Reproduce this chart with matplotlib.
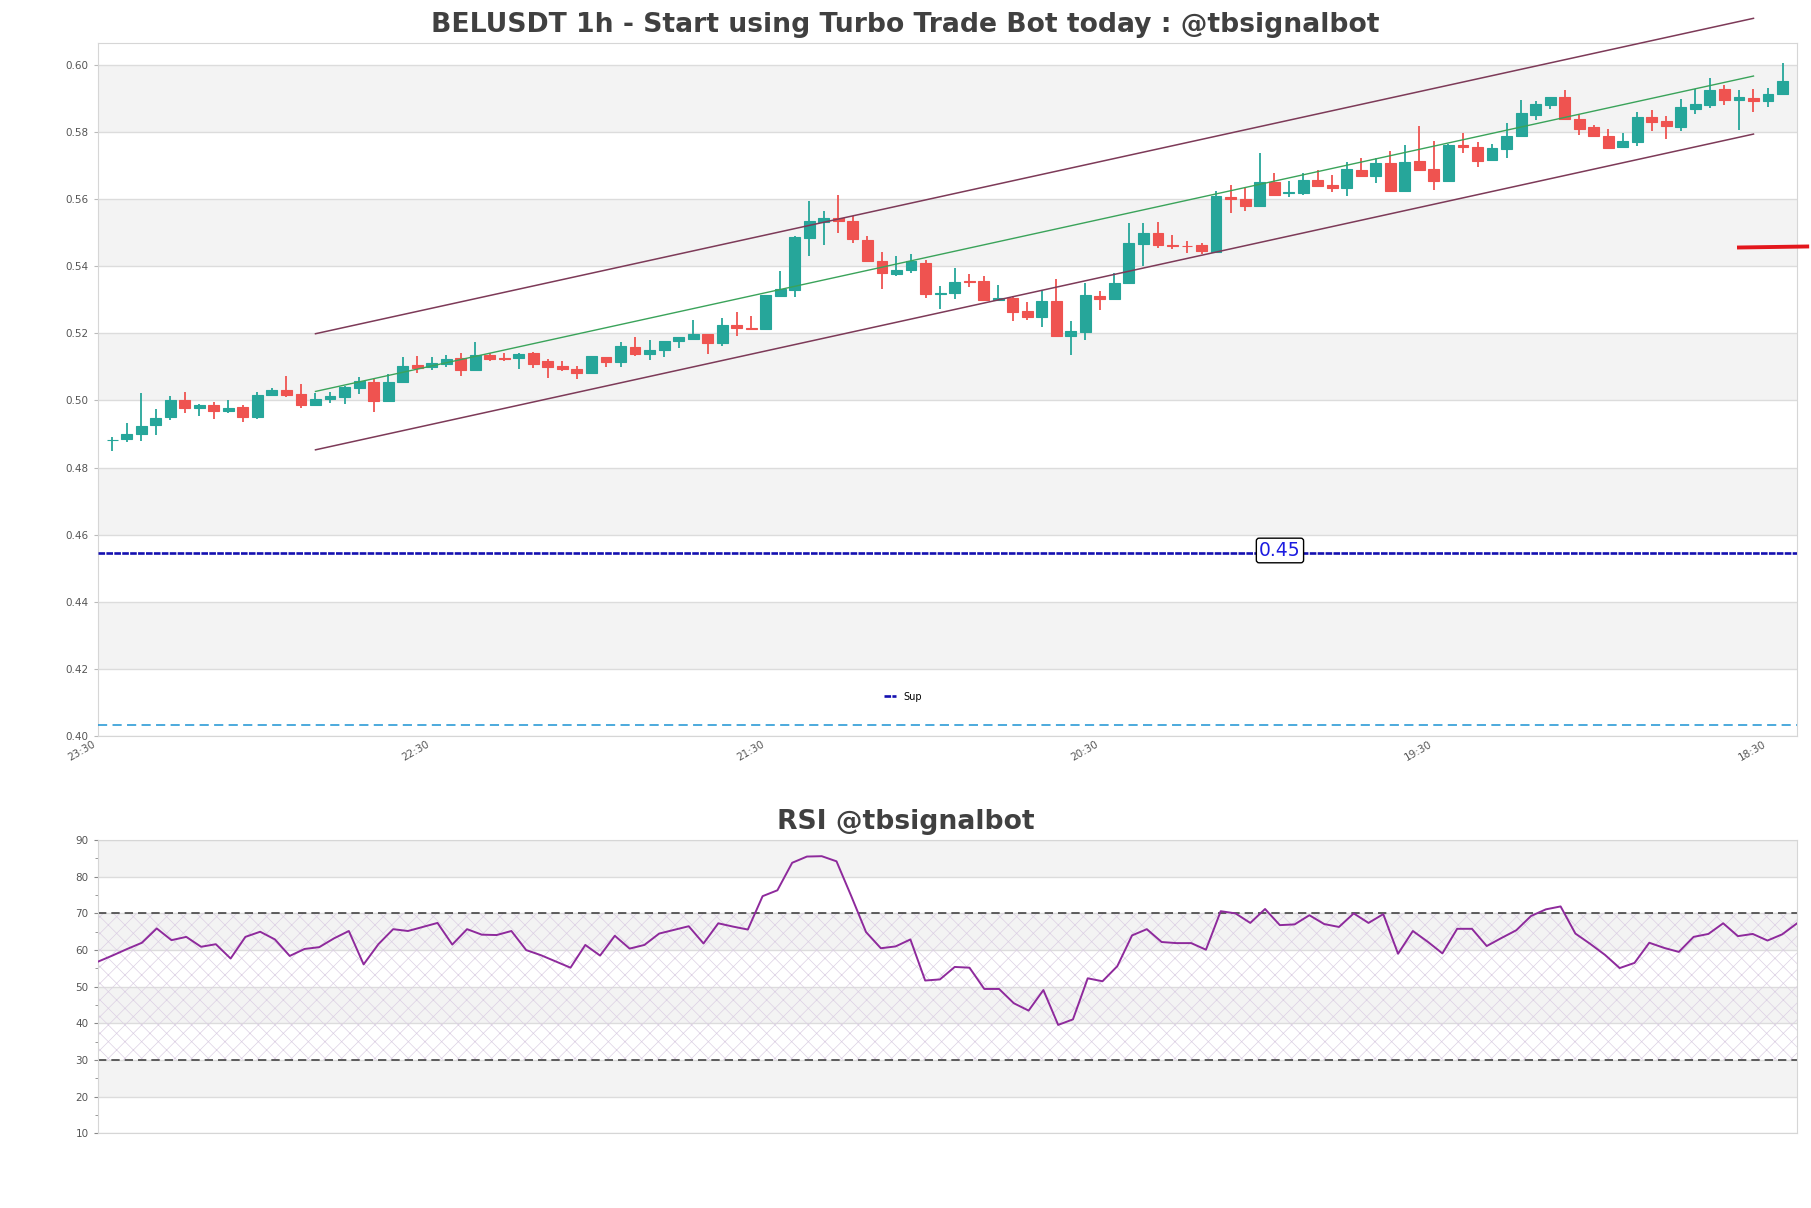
import matplotlib
matplotlib.use('Agg')
import matplotlib.pyplot as plt
import numpy as np

TEAL = '#26a69a'
RED = '#ef5350'
BAND = '#f3f3f3'
GRID = '#dcdcdc'

# OHLC, one candle per hour
opens = [0.4881, 0.4884, 0.4899, 0.4926, 0.4950, 0.5002, 0.4977, 0.4988, 0.4968, 0.4982,
         0.4950, 0.5015, 0.5032, 0.5020, 0.4986, 0.5004, 0.5009, 0.5036, 0.5056, 0.4998,
         0.5054, 0.5105, 0.5099, 0.5108, 0.5127, 0.5090, 0.5136, 0.5127, 0.5126, 0.5141,
         0.5117, 0.5102, 0.5093, 0.5081, 0.5129, 0.5115, 0.5158, 0.5139, 0.5150, 0.5176,
         0.5183, 0.5197, 0.5171, 0.5224, 0.5217, 0.5213, 0.5311, 0.5329, 0.5483, 0.5532,
         0.5544, 0.5536, 0.5479, 0.5416, 0.5376, 0.5388, 0.5410, 0.5318, 0.5320, 0.5357,
         0.5355, 0.5300, 0.5305, 0.5268, 0.5249, 0.5296, 0.5193, 0.5205, 0.5311, 0.5303,
         0.5350, 0.5466, 0.5500, 0.5464, 0.5461, 0.5464, 0.5443, 0.5606, 0.5602, 0.5579,
         0.5652, 0.5617, 0.5618, 0.5658, 0.5641, 0.5633, 0.5688, 0.5668, 0.5709, 0.5623,
         0.5714, 0.5690, 0.5655, 0.5761, 0.5756, 0.5717, 0.5749, 0.5787, 0.5852, 0.5881,
         0.5904, 0.5839, 0.5814, 0.5787, 0.5756, 0.5769, 0.5844, 0.5833, 0.5816, 0.5869,
         0.5881, 0.5928, 0.5896, 0.5902, 0.5893, 0.5913]
highs = [0.4891, 0.4933, 0.5022, 0.4976, 0.5014, 0.5024, 0.4991, 0.4995, 0.5002, 0.4986,
         0.5025, 0.5038, 0.5074, 0.5050, 0.5022, 0.5026, 0.5042, 0.5069, 0.5064, 0.5078,
         0.5131, 0.5133, 0.5131, 0.5136, 0.5141, 0.5175, 0.5141, 0.5141, 0.5142, 0.5145,
         0.5123, 0.5117, 0.5103, 0.5132, 0.5131, 0.5174, 0.5189, 0.5179, 0.5176, 0.5188,
         0.5239, 0.5199, 0.5245, 0.5264, 0.5253, 0.5315, 0.5387, 0.5491, 0.5595, 0.5565,
         0.5613, 0.5549, 0.5491, 0.5443, 0.5432, 0.5438, 0.5420, 0.5341, 0.5394, 0.5378,
         0.5371, 0.5344, 0.5312, 0.5295, 0.5326, 0.5363, 0.5237, 0.5349, 0.5325, 0.5379,
         0.5530, 0.5530, 0.5533, 0.5494, 0.5476, 0.5470, 0.5625, 0.5643, 0.5636, 0.5739,
         0.5678, 0.5655, 0.5678, 0.5688, 0.5673, 0.5711, 0.5724, 0.5722, 0.5744, 0.5762,
         0.5818, 0.5774, 0.5765, 0.5796, 0.5770, 0.5764, 0.5826, 0.5896, 0.5893, 0.5904,
         0.5926, 0.5851, 0.5821, 0.5808, 0.5796, 0.5860, 0.5866, 0.5848, 0.5898, 0.5928,
         0.5960, 0.5940, 0.5924, 0.5928, 0.5930, 0.6005]
lows = [0.4849, 0.4875, 0.4878, 0.4898, 0.4941, 0.4963, 0.4953, 0.4946, 0.4962, 0.4935,
        0.4944, 0.5012, 0.5010, 0.4979, 0.4985, 0.4993, 0.4990, 0.5019, 0.4965, 0.4998,
        0.5053, 0.5082, 0.5092, 0.5100, 0.5072, 0.5087, 0.5117, 0.5117, 0.5093, 0.5098,
        0.5068, 0.5088, 0.5063, 0.5081, 0.5099, 0.5099, 0.5133, 0.5120, 0.5130, 0.5155,
        0.5183, 0.5138, 0.5162, 0.5192, 0.5212, 0.5213, 0.5311, 0.5308, 0.5432, 0.5464,
        0.5498, 0.5469, 0.5412, 0.5333, 0.5372, 0.5380, 0.5305, 0.5274, 0.5302, 0.5339,
        0.5297, 0.5297, 0.5238, 0.5241, 0.5218, 0.5188, 0.5137, 0.5181, 0.5270, 0.5303,
        0.5348, 0.5401, 0.5454, 0.5452, 0.5440, 0.5437, 0.5443, 0.5558, 0.5566, 0.5579,
        0.5612, 0.5605, 0.5612, 0.5636, 0.5622, 0.5609, 0.5668, 0.5647, 0.5621, 0.5622,
        0.5685, 0.5626, 0.5652, 0.5739, 0.5697, 0.5715, 0.5724, 0.5787, 0.5836, 0.5869,
        0.5836, 0.5791, 0.5785, 0.5750, 0.5754, 0.5759, 0.5804, 0.5779, 0.5804, 0.5853,
        0.5871, 0.5881, 0.5806, 0.5861, 0.5876, 0.5913]
closes = [0.4882, 0.4900, 0.4925, 0.4949, 0.5002, 0.4977, 0.4988, 0.4968, 0.4979, 0.4950,
          0.5017, 0.5032, 0.5015, 0.4986, 0.5005, 0.5014, 0.5039, 0.5057, 0.4998, 0.5056,
          0.5104, 0.5097, 0.5113, 0.5125, 0.5090, 0.5136, 0.5125, 0.5125, 0.5140, 0.5108,
          0.5100, 0.5093, 0.5082, 0.5132, 0.5115, 0.5161, 0.5139, 0.5150, 0.5176, 0.5188,
          0.5197, 0.5171, 0.5224, 0.5216, 0.5212, 0.5313, 0.5331, 0.5488, 0.5536, 0.5544,
          0.5534, 0.5480, 0.5415, 0.5379, 0.5389, 0.5415, 0.5317, 0.5321, 0.5354, 0.5353,
          0.5300, 0.5305, 0.5264, 0.5249, 0.5296, 0.5193, 0.5207, 0.5314, 0.5302, 0.5350,
          0.5468, 0.5498, 0.5464, 0.5461, 0.5459, 0.5445, 0.5608, 0.5601, 0.5579, 0.5650,
          0.5612, 0.5621, 0.5658, 0.5639, 0.5633, 0.5690, 0.5668, 0.5709, 0.5625, 0.5710,
          0.5687, 0.5655, 0.5762, 0.5756, 0.5715, 0.5752, 0.5787, 0.5857, 0.5883, 0.5904,
          0.5840, 0.5810, 0.5787, 0.5754, 0.5774, 0.5844, 0.5829, 0.5819, 0.5874, 0.5883,
          0.5926, 0.5896, 0.5906, 0.5894, 0.5914, 0.5952]

rsi = [56.8, 58.5, 60.3, 62.0, 65.9, 62.7, 63.6, 60.9, 61.6, 57.7,
       63.6, 65.0, 62.9, 58.4, 60.3, 60.8, 63.2, 65.2, 56.1, 61.6,
       65.7, 65.2, 66.3, 67.4, 61.5, 65.7, 64.2, 64.1, 65.2, 60.0,
       58.6, 56.9, 55.2, 61.4, 58.5, 63.9, 60.4, 61.4, 64.5, 65.5,
       66.5, 61.8, 67.3, 66.4, 65.6, 74.7, 76.3, 83.8, 85.5, 85.6,
       84.2, 74.7, 64.9, 60.5, 61.0, 62.9, 51.7, 52.0, 55.4, 55.2,
       49.4, 49.4, 45.5, 43.5, 49.1, 39.6, 41.1, 52.3, 51.5, 55.6,
       64.0, 65.7, 62.2, 61.9, 61.9, 60.1, 70.6, 70.0, 67.4, 71.2,
       66.8, 67.0, 69.5, 67.1, 66.3, 70.0, 67.4, 69.8, 59.0, 65.2,
       62.3, 59.1, 65.8, 65.8, 61.1, 63.3, 65.4, 69.3, 71.1, 71.9,
       64.5, 61.7, 58.7, 55.1, 56.5, 62.0, 60.6, 59.5, 63.6, 64.4,
       67.3, 63.8, 64.4, 62.6, 64.3, 67.3]

tickPositions = [-1, 22, 45, 68, 91, 114]
tickLabels = ['23:30', '22:30', '21:30', '20:30', '19:30', '18:30']

# regression channel (start / end candle)
channelX = [14, 113]
channelUpper = [0.5199, 0.6139]
channelMid = [0.5027, 0.5967]
channelLower = [0.4853, 0.5794]

supportLevel = 0.4546
supportText = '0.45'
lowerLevel = 0.4033
priceMarkX = [112, 116.7]
priceMarkY = [0.5456, 0.5459]


def styleAxes(ax, bandEdges):
    for lo, hi in zip(bandEdges[:-1:2], bandEdges[1::2]):
        ax.axhspan(lo, hi, color=BAND, zorder=0, linewidth=0)
    ax.set_axisbelow(True)
    ax.grid(axis='y', color=GRID, linewidth=1.0)
    for sp in ax.spines.values():
        sp.set_color('#d6d6d6')
    ax.tick_params(labelsize=7.5, labelcolor='#555555', color='#bbbbbb', length=3)


def candlePanel(fig):
    ax = fig.add_axes([0.0539, 0.3907, 0.9384, 0.5733])
    styleAxes(ax, [0.42, 0.44, 0.46, 0.48, 0.50, 0.52, 0.54, 0.56, 0.58, 0.60])

    x = np.arange(len(opens))
    o, h, l, c = map(np.array, (opens, highs, lows, closes))
    colors = np.where(c >= o, TEAL, RED)
    ax.vlines(x, l, h, colors=colors, linewidth=1.3, zorder=3)
    ax.bar(x, np.abs(c - o), bottom=np.minimum(o, c), width=0.75,
           color=colors, edgecolor=colors, linewidth=0.8, zorder=4)

    ax.plot(channelX, channelUpper, color='#7d3a58', linewidth=1.1, clip_on=False, zorder=5)
    ax.plot(channelX, channelLower, color='#7d3a58', linewidth=1.1, clip_on=False, zorder=5)
    ax.plot(channelX, channelMid, color='#3aa35a', linewidth=1.0, zorder=5)

    ax.axhline(supportLevel, color='#1410b0', linestyle=(0, (2.5, 0.5)), linewidth=1.9,
               label='Sup', zorder=5)
    ax.text(80.4, supportLevel + 0.0007, supportText, color='#1c1ce0', fontsize=13.5,
            ha='center', va='center',
            bbox=dict(boxstyle='round,pad=0.15', facecolor='white', edgecolor='black', linewidth=1.0),
            zorder=6)
    ax.axhline(lowerLevel, color='#1b93d3', linestyle=(0, (6, 3.5)), linewidth=1.1, zorder=5)
    ax.plot(priceMarkX, priceMarkY, color='#e3171c', linewidth=2.8, clip_on=False, zorder=6)

    ax.set_xlim(-1, 116)
    ax.set_ylim(0.40, 0.6064)
    ax.set_yticks(np.arange(0.40, 0.601, 0.02))
    ax.set_yticklabels([f'{v:.2f}' for v in np.arange(0.40, 0.601, 0.02)])
    ax.set_xticks(tickPositions)
    ax.set_xticklabels(tickLabels, rotation=30, ha='right')
    ax.tick_params(axis='x', length=0, pad=2)

    ax.legend(loc='center', bbox_to_anchor=(0.474, 0.057), frameon=False, fontsize=7,
              handlelength=1.2, handletextpad=0.8)
    # title sits centred on the figure, not the axes
    fig.text(0.5, 0.9738, 'BELUSDT 1h - Start using Turbo Trade Bot today : @tbsignalbot',
             fontsize=19.2, fontweight='bold', color='#404040', ha='center', va='baseline')


def rsiPanel(fig):
    ax = fig.add_axes([0.0539, 0.0617, 0.9384, 0.2429])
    styleAxes(ax, [20, 30, 40, 50, 60, 70, 80, 90])

    x = np.arange(len(rsi))
    ax.fill_between([0, len(rsi) - 1], 30, 70, facecolor='none', edgecolor='#dcd0e4',
                    hatch='xx', linewidth=0, zorder=1)
    ax.axhline(70, color='#444444', linestyle=(0, (5, 3)), linewidth=1.2, zorder=2)
    ax.axhline(30, color='#444444', linestyle=(0, (5, 3)), linewidth=1.2, zorder=2)
    ax.plot(x, rsi, color='#8e2a9c', linewidth=1.4, zorder=3)

    ax.set_xlim(0, len(rsi) - 1)
    ax.set_ylim(10, 90)
    ax.set_yticks(range(10, 91, 10))
    ax.set_yticks(range(15, 90, 10), minor=True)
    ax.tick_params(axis='y', which='minor', length=2, color='#888888')
    ax.tick_params(axis='y', which='major', color='#888888')
    ax.set_xticks([])
    fig.text(0.5, 0.3138, 'RSI @tbsignalbot', fontsize=19.2, fontweight='bold',
             color='#404040', ha='center', va='baseline')


def main():
    plt.rcParams['hatch.linewidth'] = 0.5
    fig = plt.figure(figsize=(18.11, 12.08), dpi=100)
    candlePanel(fig)
    rsiPanel(fig)
    fig.savefig('out.png', dpi=100)
    plt.close(fig)


if __name__ == '__main__':
    main()
